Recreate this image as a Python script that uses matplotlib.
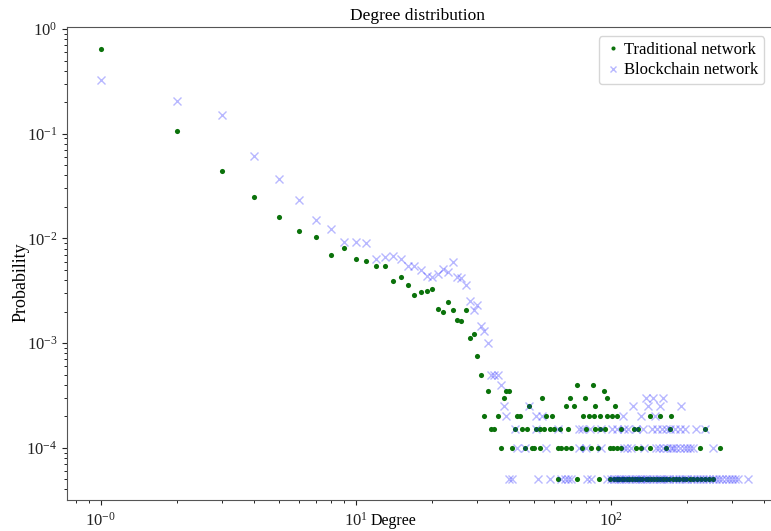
import matplotlib
matplotlib.use("Agg")
from matplotlib import pyplot as plt
from matplotlib import ticker

plt.rcParams['font.family'] = ['Liberation Serif', 'DejaVu Serif']
plt.rcParams['mathtext.fontset'] = 'custom'
plt.rcParams['mathtext.rm'] = 'Liberation Serif'
plt.rcParams['mathtext.it'] = 'Liberation Serif:italic'

# Traditional network: low degrees read one by one
trad_deg = [1, 2, 3, 4, 5, 6, 7, 8, 9, 10, 11, 12, 13, 14, 15, 16, 17, 18, 19, 20,
            21, 22, 23, 24, 25, 26, 27, 28, 29, 30, 31]
trad_prob = [0.64, 0.105, 0.044, 0.025, 0.0161, 0.0118, 0.0102, 0.0069, 0.0081, 0.0064,
             0.0061, 0.0055, 0.0055, 0.0039, 0.0043, 0.00356, 0.00286, 0.00306, 0.00316, 0.00329,
             0.00212, 0.0020, 0.00246, 0.00207, 0.00167, 0.00161, 0.00207, 0.00111, 0.00121, 0.00076,
             0.0005]
# Traditional network tail: degrees on each probability level
trad_4e4 = [74, 85]
trad_35e5 = [33, 39, 40, 94]
trad_3e4 = [38, 54, 69, 79, 97]
trad_25e5 = [48, 67, 72, 87, 104]
trad_2e4 = [32, 36, 43, 44, 56, 59, 78, 82, 86, 91, 97, 101, 106, 142, 156, 173]
trad_15e5 = [34, 35, 42, 45, 47, 51, 53, 55, 58, 60, 63, 68, 80, 87, 91, 95, 110, 123, 128, 171, 234]
trad_1e4 = [37, 41, 46, 49, 50, 53, 62, 64, 67, 70, 77, 84, 89, 99, 102, 106, 110, 126, 132,
            143, 165, 224, 268]
trad_5e5 = [62, 74, 90, 99, 103, 106, 108, 111, 113, 116, 118, 121, 124, 127, 130, 133, 137,
            140, 144, 148, 152, 156, 160, 165, 170, 175, 180, 186, 192, 198, 204, 211, 218,
            226, 234, 243, 251]

# Blockchain network
block_deg = [1, 2, 3, 4, 5, 6, 7, 8, 9, 10, 11, 12, 13, 14, 15, 16, 17, 18, 19, 20,
             21, 22, 23, 24, 25, 26, 27, 28, 29, 30, 31, 32, 33]
block_prob = [0.324, 0.207, 0.152, 0.061, 0.0367, 0.0233, 0.015, 0.0123, 0.0093, 0.0093,
              0.009, 0.0064, 0.0066, 0.0068, 0.0063, 0.00545, 0.00545, 0.0050, 0.0044, 0.0043,
              0.0046, 0.0051, 0.0048, 0.0059, 0.0043, 0.0042, 0.0036, 0.0025, 0.00209, 0.0023,
              0.00146, 0.00131, 0.00101]
block_5e4 = [34, 35, 36]
block_4e4 = [37]
block_3e4 = [138, 147, 160]
block_25e5 = [38, 48, 122, 140, 156, 188]
block_2e4 = [39, 51, 54, 112, 132, 149]
block_15e5 = [42, 51, 62, 75, 77, 83, 92, 101, 106, 113, 117, 126, 134, 145, 152, 159, 165,
              171, 179, 187, 196, 217, 234]
block_1e4 = [43, 46, 56, 75, 80, 92, 113, 116, 120, 135, 150, 154, 160, 166, 172, 176, 181,
             187, 193, 199, 205, 211, 253]
block_5e5 = [40, 41, 52, 58, 64, 66, 68, 70, 81, 84, 97, 100, 103, 105, 108, 110, 113, 115,
             118, 121, 124, 127, 130, 133, 136, 139, 142, 146, 150, 154, 158, 162, 166, 170,
             175, 180, 185, 190, 195, 200, 206, 212, 218, 224, 230, 237, 244, 251, 258, 266,
             274, 282, 290, 299, 308, 317, 347]

trad_x = list(trad_deg)
trad_y = list(trad_prob)
for lvl, degs in [(4e-4, trad_4e4), (3.5e-4, trad_35e5), (3e-4, trad_3e4), (2.5e-4, trad_25e5),
                  (2e-4, trad_2e4), (1.5e-4, trad_15e5), (1e-4, trad_1e4), (5e-5, trad_5e5)]:
    trad_x += degs
    trad_y += [lvl] * len(degs)

block_x = list(block_deg)
block_y = list(block_prob)
for lvl, degs in [(5e-4, block_5e4), (4e-4, block_4e4), (3e-4, block_3e4), (2.5e-4, block_25e5),
                  (2e-4, block_2e4), (1.5e-4, block_15e5), (1e-4, block_1e4), (5e-5, block_5e5)]:
    block_x += degs
    block_y += [lvl] * len(degs)

fig = plt.figure(figsize=(7.71, 5.31), dpi=100)
ax_w = 725.0
ax = fig.add_axes([67 / 771, 31 / 531, ax_w / 771, 473.3 / 531])

ax.plot(trad_x, trad_y, 'o', color='#0b720b', markersize=3.7, markeredgewidth=0,
        label='Traditional network', zorder=2)
ax.plot(block_x, block_y, 'x', color='blue', alpha=0.28, markersize=5.5, markeredgewidth=1.0,
        label='Blockchain network', zorder=3)

ax.set_xscale('log')
ax.set_yscale('log')
ax.set_xlim(0.738, 10 ** ((67 + ax_w - 100.7) / 255))
ax.set_ylim(3.17e-5, 1.052)

ax.xaxis.set_major_locator(ticker.FixedLocator([1, 10, 100]))
ax.xaxis.set_major_formatter(ticker.FixedFormatter(
    [r'$\mathdefault{10^{-0}}$', r'$\mathdefault{10^{1}}$', r'$\mathdefault{10^{2}}$']))
ax.yaxis.set_major_locator(ticker.FixedLocator([1e-4, 1e-3, 1e-2, 1e-1, 1]))
ax.yaxis.set_major_formatter(ticker.FixedFormatter(
    [r'$\mathdefault{10^{-4}}$', r'$\mathdefault{10^{-3}}$', r'$\mathdefault{10^{-2}}$',
     r'$\mathdefault{10^{-1}}$', r'$\mathdefault{10^{0}}$']))
ax.tick_params(labelsize=12, colors='#222222')
ax.tick_params(axis='x', pad=5)

for s in ax.spines.values():
    s.set_color('#555555')

ax.set_title('Degree distribution', fontsize=12.5, pad=5, x=(418 - 67) / ax_w)
ax.set_xlabel('Degree', fontsize=11.5)
ax.xaxis.set_label_coords((393 - 67) / ax_w, -0.028)
ax.set_ylabel('Probability', fontsize=13)
ax.yaxis.set_label_coords(-0.052, 0.46)

leg = ax.legend(loc='upper right', bbox_to_anchor=((769 - 67) / ax_w, 0.99), fontsize=12,
                handletextpad=0.15, handlelength=1.0, borderpad=0.35, labelspacing=0.25,
                markerscale=0.8, borderaxespad=0.3)
leg.get_frame().set_edgecolor('#cccccc')

fig.savefig('out.png', dpi=100)
